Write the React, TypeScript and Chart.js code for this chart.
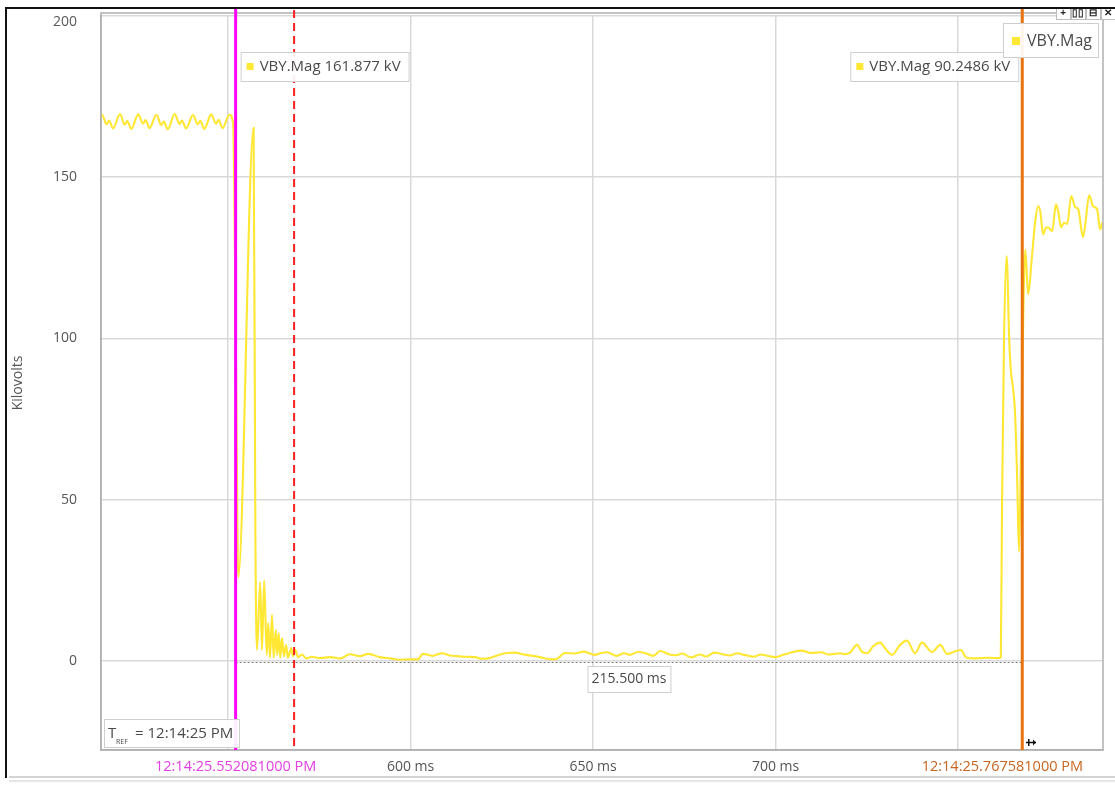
import { useEffect, useRef } from "react";
import { Chart, registerables } from "chart.js";

Chart.register(...registerables);

// ---------------- data ----------------
const seriesName = "VBY.Mag";
const yAxisTitle = "Kilovolts";

const timeMs: number[] = [
  515.2, 515.5, 516.7, 517.4, 518.5, 520.4, 521.7, 522.4, 523.5, 525.4,
  526.7, 527.4, 528.5, 530.4, 531.7, 532.4, 533.5, 535.4, 536.7, 537.4,
  538.5, 540.4, 541.7, 542.4, 543.5, 545.4, 546.7, 547.4, 548.5, 550.4,
  551.4, 552.2, 552.8, 557.0, 557.5, 557.95, 558.8, 559.3, 559.9, 560.6,
  561.0, 561.5, 562.05, 562.5, 563.1, 563.45, 563.9, 564.3, 564.8, 565.3,
  565.9, 566.4, 567.3, 567.8, 568.4, 569.2, 570.3, 571.4, 573.0, 575.2,
  578.0, 580.7, 583.4, 586.2, 588.4, 591.6, 594.5, 597.1, 599.9, 602.0,
  603.4, 606.0, 608.6, 610.5, 612.7, 615.0, 617.7, 619.5, 621.2, 624.5,
  626.5, 628.6, 631.0, 634.1, 636.5, 639.0, 640.0, 642.3, 645.0, 647.5,
  650.5, 652.0, 653.8, 656.5, 658.5, 660.1, 662.3, 664.2, 666.5, 668.4,
  670.5, 672.5, 674.5, 676.8, 679.3, 681.0, 683.2, 685.5, 687.5, 689.5,
  691.4, 694.0, 696.0, 697.7, 700.0, 702.1, 704.5, 707.3, 709.5, 712.5,
  714.5, 717.7, 719.0, 720.4, 722.3, 723.7, 725.1, 726.7, 728.6, 730.3,
  731.9, 734.1, 736.0, 738.2, 740.1, 742.9, 745.1, 747.0, 749.2, 750.8,
  752.2, 754.5, 756.0, 758.8, 760.5, 761.7, 762.05, 762.6, 763.3, 764.0,
  764.5, 765.1, 765.6, 766.2, 766.7, 767.2, 768.4, 769.2, 770.2, 771.1,
  771.9, 772.5, 773.3, 774.1, 774.7, 775.8, 776.8, 777.4, 778.2, 779.0,
  779.9, 781.0, 782.1, 782.9, 784.2, 784.8, 785.9, 787.0, 788.1, 788.9,
  789.5,
];

const kilovolts: number[] = [
  169.0, 169.4, 166.4, 167.6, 165.1, 169.6, 166.3, 167.4, 165.0, 169.5,
  166.6, 167.7, 165.2, 169.4, 166.2, 167.3, 164.9, 169.6, 166.5, 167.6,
  165.1, 169.3, 166.4, 167.5, 165.0, 169.5, 166.6, 167.8, 165.2, 169.4,
  166.6, 90.0, 26.0, 165.3, 38.0, 3.5, 24.5, 3.4, 25.0, 1.8,
  11.8, 1.0, 14.3, 1.0, 9.6, 1.8, 8.7, 1.0, 7.1, 1.5,
  5.0, 1.0, 4.0, 1.5, 3.5, 1.2, 2.0, 0.8, 1.3, 0.9,
  1.2, 0.8, 2.1, 1.5, 2.2, 1.2, 0.8, 0.4, 0.5, 0.5,
  2.2, 1.6, 2.4, 1.8, 1.5, 1.3, 1.2, 0.7, 0.8, 2.0,
  2.5, 2.6, 2.0, 1.5, 0.9, 0.5, 0.6, 2.5, 2.3, 2.9,
  1.9, 2.4, 2.7, 1.6, 2.4, 1.9, 2.8, 2.5, 1.6, 3.1,
  2.2, 1.8, 2.3, 1.1, 2.0, 1.4, 2.6, 2.1, 1.7, 2.4,
  1.9, 1.3, 2.0, 1.6, 1.2, 1.9, 2.7, 3.2, 2.5, 2.7,
  2.0, 2.4, 2.1, 2.6, 5.0, 2.8, 2.4, 4.5, 5.7, 3.5,
  1.9, 5.0, 6.3, 2.4, 5.7, 2.8, 5.0, 2.2, 3.0, 3.4,
  1.1, 0.8, 0.9, 1.0, 0.9, 1.1, 50.0, 100.6, 125.6, 99.7,
  89.4, 84.2, 77.0, 56.0, 34.0, 62.0, 127.6, 113.7, 125.0, 136.0,
  141.0, 139.5, 132.3, 134.4, 134.4, 133.3, 141.6, 139.5, 134.5, 135.9,
  135.5, 144.2, 140.7, 140.2, 131.4, 135.0, 144.4, 141.0, 140.0, 133.8,
  136.0,
];

const xRange: number[] = [515.2, 789.7];
const yRange: number[] = [-27.6, 200];
const xTickLabelValues: number[] = [600, 650, 700];
const yTickValues: number[] = [0, 50, 100, 150, 200];

const cursorATime = 552.081;
const cursorBTime = 767.581;
const markerTime = 568.1;
const cursorALabel = "12:14:25.552081000 PM";
const cursorBLabel = "12:14:25.767581000 PM";
const deltaLabel = "215.500 ms";
const cursorAValue = "VBY.Mag 161.877 kV";
const cursorBValue = "VBY.Mag 90.2486 kV";
const trefTime = "= 12:14:25 PM";

// ---------------- styles ----------------
const FONT = "'Open Sans', 'Noto Sans', sans-serif";
const TRACE = "#ffe733";
const MAGENTA = "#ff00ff";
const ORANGE = "#e8730f";
const RED = "#ff1f1f";
const TEXT = "#4a4a4a";

function box(ctx: CanvasRenderingContext2D, x: number, y: number, w: number, h: number) {
  ctx.fillStyle = "rgba(255,255,255,0.92)";
  ctx.fillRect(x, y, w, h);
  ctx.strokeStyle = "#cfcfcf";
  ctx.lineWidth = 1;
  ctx.strokeRect(x + 0.5, y + 0.5, w, h);
}

const overlayPlugin = {
  id: "overlay",
  afterDraw(chart: any) {
    const ctx: CanvasRenderingContext2D = chart.ctx;
    const ca = chart.chartArea;
    const xs = chart.scales.x;
    const ys = chart.scales.y;
    ctx.save();

    // plot frame
    ctx.strokeStyle = "#b0b0b0";
    ctx.lineWidth = 1.5;
    ctx.strokeRect(ca.left, ca.top - 3, ca.right - ca.left, ca.bottom - ca.top + 3);

    const xa = xs.getPixelForValue(cursorATime);
    const xb = xs.getPixelForValue(cursorBTime);
    const xm = xs.getPixelForValue(markerTime);
    const y0 = ys.getPixelForValue(0);

    // dotted delta line
    ctx.strokeStyle = "#7a7a7a";
    ctx.lineWidth = 1;
    ctx.setLineDash([2, 2]);
    ctx.beginPath();
    ctx.moveTo(xa, y0 + 1.5);
    ctx.lineTo(xb, y0 + 1.5);
    ctx.stroke();

    // red dashed marker
    ctx.strokeStyle = RED;
    ctx.lineWidth = 2;
    ctx.setLineDash([8, 5]);
    ctx.beginPath();
    ctx.moveTo(xm, 10);
    ctx.lineTo(xm, ca.bottom);
    ctx.stroke();
    ctx.setLineDash([]);

    // cursors
    ctx.lineWidth = 3;
    ctx.strokeStyle = MAGENTA;
    ctx.beginPath();
    ctx.moveTo(xa, 9);
    ctx.lineTo(xa, ca.bottom);
    ctx.stroke();
    ctx.strokeStyle = ORANGE;
    ctx.beginPath();
    ctx.moveTo(xb, 9);
    ctx.lineTo(xb, ca.bottom);
    ctx.stroke();

    ctx.textBaseline = "middle";

    // value boxes
    ctx.font = `15px ${FONT}`;
    const wA = ctx.measureText(cursorAValue).width + 27;
    box(ctx, xa + 5, 52, wA, 29);
    ctx.fillStyle = TRACE;
    ctx.fillRect(xa + 11, 63, 7, 7);
    ctx.fillStyle = TEXT;
    ctx.textAlign = "left";
    ctx.fillText(cursorAValue, xa + 24, 67);

    const wB = ctx.measureText(cursorBValue).width + 27;
    box(ctx, xb - 4 - wB, 52, wB, 29);
    ctx.fillStyle = TRACE;
    ctx.fillRect(xb - 4 - wB + 6, 63, 7, 7);
    ctx.fillStyle = TEXT;
    ctx.fillText(cursorBValue, xb - 4 - wB + 19, 67);

    // series legend box
    ctx.font = `16px ${FONT}`;
    box(ctx, 1003, 23, 95, 34);
    ctx.fillStyle = TRACE;
    ctx.fillRect(1012, 37, 8, 8);
    ctx.fillStyle = TEXT;
    ctx.fillText(seriesName, 1027, 41);

    // delta label
    ctx.font = `14px ${FONT}`;
    const wD = ctx.measureText(deltaLabel).width + 8;
    const xc = (xa + xb) / 2;
    box(ctx, xc - wD / 2, 666, wD, 26);
    ctx.fillStyle = TEXT;
    ctx.textAlign = "center";
    ctx.fillText(deltaLabel, xc, 679);

    // T_REF box
    box(ctx, 104, 719, 135, 28);
    ctx.textAlign = "left";
    ctx.fillStyle = TEXT;
    ctx.font = `15px ${FONT}`;
    ctx.fillText("T", 108, 734);
    ctx.font = `7px ${FONT}`;
    ctx.fillText("REF", 116, 742);
    ctx.font = `15px ${FONT}`;
    ctx.fillText(trefTime, 135, 734);

    // cursor time labels
    ctx.font = `14.5px ${FONT}`;
    ctx.textAlign = "center";
    ctx.fillStyle = "#e33fe3";
    ctx.fillText(cursorALabel, xa, 767);
    ctx.textAlign = "right";
    ctx.fillStyle = "#c8651f";
    ctx.fillText(cursorBLabel, 1083, 767);

    // y "200" label (shifted inside)
    ctx.font = `14px ${FONT}`;
    ctx.fillStyle = "#5a5a5a";
    ctx.textAlign = "right";
    ctx.fillText(String(yTickValues[yTickValues.length - 1]), 77, 22);

    // small pin icon
    ctx.strokeStyle = "#111";
    ctx.fillStyle = "#111";
    ctx.lineWidth = 1.5;
    ctx.beginPath();
    ctx.moveTo(1026, 742.5);
    ctx.lineTo(1036, 742.5);
    ctx.stroke();
    ctx.beginPath();
    ctx.moveTo(1033, 739.5);
    ctx.lineTo(1036, 742.5);
    ctx.lineTo(1033, 745.5);
    ctx.fill();
    ctx.fillRect(1028, 739, 1.5, 7);

    // toolbar buttons top right
    const glyphs = ["+", "\u25AF\u25AF", "\u229F", "\u2715"];
    ctx.font = `bold 10px ${FONT}`;
    ctx.textAlign = "center";
    for (let i = 0; i < glyphs.length; i++) {
      const bx = 1056 + i * 15;
      ctx.fillStyle = "#ffffff";
      ctx.fillRect(bx, 8, 14, 11);
      ctx.strokeStyle = "#bdbdbd";
      ctx.lineWidth = 1;
      ctx.strokeRect(bx + 0.5, 8.5, 14, 11);
      ctx.fillStyle = "#222";
      ctx.fillText(glyphs[i], bx + 7, 13);
    }

    // outer frame
    ctx.strokeStyle = "#111";
    ctx.lineWidth = 2;
    ctx.beginPath();
    ctx.moveTo(1115, 8);
    ctx.lineTo(6, 8);
    ctx.lineTo(6, 778);
    ctx.stroke();
    ctx.strokeStyle = "#c4c4c4";
    ctx.lineWidth = 1.5;
    ctx.beginPath();
    ctx.moveTo(9, 777);
    ctx.lineTo(1115, 777);
    ctx.stroke();
    ctx.strokeStyle = "#dcdcdc";
    ctx.beginPath();
    ctx.moveTo(9, 781);
    ctx.lineTo(1115, 781);
    ctx.stroke();

    ctx.restore();
  },
};

export default function App() {
  const canvasRef = useRef<HTMLCanvasElement | null>(null);

  useEffect(() => {
    const canvas = canvasRef.current;
    if (!canvas) return;
    const points = timeMs.map((t, i) => ({ x: t, y: kilovolts[i] }));
    const chart = new Chart(canvas, {
      type: "line",
      data: {
        datasets: [
          {
            label: seriesName,
            data: points,
            borderColor: TRACE,
            borderWidth: 2.1,
            pointRadius: 0,
            cubicInterpolationMode: "monotone",
            fill: false,
          },
        ],
      },
      options: {
        animation: false,
        responsive: false,
        devicePixelRatio: 1,
        events: [],
        layout: { padding: { top: 16, right: 12, left: 0, bottom: 0 } },
        plugins: {
          legend: { display: false },
          tooltip: { enabled: false },
        },
        scales: {
          x: {
            type: "linear",
            min: xRange[0],
            max: xRange[1],
            afterFit: (s: any) => {
              s.height = 35;
              s.paddingLeft = 0;
              s.paddingRight = 0;
            },
            grid: { color: "#d9d9d9", lineWidth: 1.5, drawTicks: false },
            border: { color: "#b0b0b0", width: 1.5 },
            ticks: {
              stepSize: 50,
              includeBounds: false,
              padding: 9,
              maxRotation: 0,
              autoSkip: false,
              color: "#555555",
              font: { family: FONT, size: 14 },
              callback: (v: any) => (xTickLabelValues.includes(Number(v)) ? `${v} ms` : ""),
            },
          },
          y: {
            type: "linear",
            min: yRange[0],
            max: yRange[1],
            afterFit: (s: any) => {
              s.width = 101;
              s.paddingTop = 0;
              s.paddingBottom = 0;
            },
            grid: { color: "#d9d9d9", lineWidth: 1.5, drawTicks: false },
            border: { color: "#b0b0b0", width: 1.5 },
            title: {
              display: true,
              text: yAxisTitle,
              color: "#555555",
              font: { family: FONT, size: 14 },
              padding: { top: 10, bottom: 0 },
            },
            ticks: {
              stepSize: 50,
              includeBounds: false,
              padding: 24,
              color: "#555555",
              font: { family: FONT, size: 14 },
              callback: (v: any) =>
                yTickValues.includes(Number(v)) && Number(v) !== yTickValues[yTickValues.length - 1]
                  ? String(v)
                  : "",
            },
          },
        },
      },
      plugins: [overlayPlugin],
    } as any);
    return () => chart.destroy();
  }, []);

  return (
    <div style={{ position: "fixed", left: 0, top: 0, width: 1115, height: 785, background: "#ffffff" }}>
      <canvas ref={canvasRef} width={1115} height={785} style={{ display: "block" }} />
    </div>
  );
}
